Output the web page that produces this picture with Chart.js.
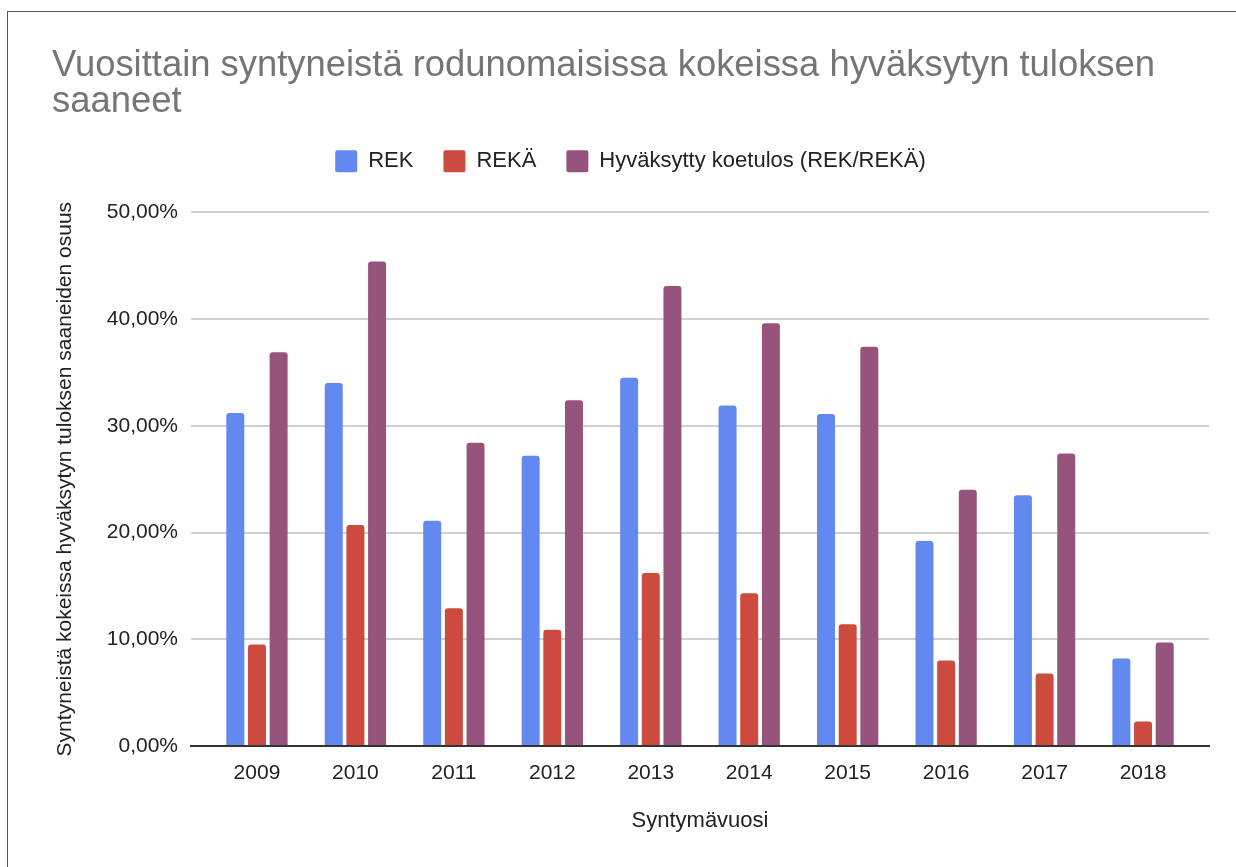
<!DOCTYPE html>
<html>
<head>
<meta charset="utf-8">
<script src="https://cdn.jsdelivr.net/npm/chart.js@4"></script>
<style>
  html, body { margin: 0; padding: 0; background: #fff; }
  #frame { position: absolute; left: 7px; top: 11px; width: 1400px; height: 1000px; border: 1.5px solid #555; }
  #wrap { position: absolute; left: 0; top: 0; width: 1236px; height: 867px; }
</style>
</head>
<body>
<div id="frame"></div>
<div id="wrap"><canvas id="chart"></canvas></div>
<script>
const years = [2009, 2010, 2011, 2012, 2013, 2014, 2015, 2016, 2017, 2018];
const rek = [31.2, 34.0, 21.1, 27.2, 34.5, 31.9, 31.1, 19.2, 23.5, 8.2];
const reka = [9.5, 20.7, 12.9, 10.9, 16.2, 14.3, 11.4, 8.0, 6.8, 2.3];
const hyvaksytty = [36.9, 45.4, 28.4, 32.4, 43.1, 39.6, 37.4, 24.0, 27.4, 9.7];
const seriesNames = ['REK', 'REKÄ', 'Hyväksytty koetulos (REK/REKÄ)'];
const titleLines = ['Vuosittain syntyneistä rodunomaisissa kokeissa hyväksytyn tuloksen', 'saaneet'];

Chart.defaults.font.family = '"Liberation Sans", Arial, sans-serif';

// push the plot down a little below the legend
const legendGap = {
    id: 'legendGap',
    beforeInit(chart) {
        const fit = chart.legend.fit;
        chart.legend.fit = function () {
            fit.bind(chart.legend)();
            this.height += 30;
        };
    }
};

const ctx = document.getElementById('chart').getContext('2d');
new Chart(ctx, {
    type: 'bar',
    data: {
        labels: years,
        datasets: [
            { label: seriesNames[0], data: rek, backgroundColor: '#6389f0' },
            { label: seriesNames[1], data: reka, backgroundColor: '#cc4a3e' },
            { label: seriesNames[2], data: hyvaksytty, backgroundColor: '#96547c' }
        ]
    },
    options: {
        responsive: true,
        maintainAspectRatio: false,
        animation: false,
        layout: { padding: { left: 52, right: 27, top: 0, bottom: 0 } },
        datasets: {
            bar: {
                categoryPercentage: 0.66,
                barPercentage: 0.83,
                borderRadius: 3,
                borderWidth: 0
            }
        },
        plugins: {
            title: {
                display: true,
                text: titleLines,
                align: 'start',
                color: '#757575',
                font: { size: 36.4, weight: 'normal', lineHeight: 1 },
                padding: { top: 47.5, bottom: 0 }
            },
            legend: {
                labels: {
                    color: '#222',
                    font: { size: 22 },
                    boxWidth: 22,
                    boxHeight: 22,
                    useBorderRadius: true,
                    borderRadius: 2,
                    padding: 30
                }
            },
            tooltip: { enabled: false }
        },
        scales: {
            x: {
                type: 'linear',
                min: 2008.33,
                max: 2018.67,
                offset: false,
                afterFit(scale) { scale.height = 121; },
                grid: { display: false },
                border: { display: true, color: '#333', width: 2 },
                ticks: {
                    stepSize: 1,
                    includeBounds: false,
                    color: '#222',
                    font: { size: 21 },
                    padding: 7,
                    callback: (v) => String(v)
                },
                title: {
                    display: true,
                    text: 'Syntymävuosi',
                    color: '#222',
                    font: { size: 22 },
                    padding: { top: 0, bottom: 33 }
                }
            },
            y: {
                min: 0,
                max: 50,
                afterFit(scale) { scale.width = 139; },
                grid: { color: '#d0d0d0', lineWidth: 2, drawTicks: false },
                border: { display: false },
                ticks: {
                    stepSize: 10,
                    color: '#222',
                    font: { size: 21 },
                    padding: 13,
                    callback: (v) => v.toFixed(2).replace('.', ',') + '%'
                },
                title: {
                    display: true,
                    text: 'Syntyneistä kokeissa hyväksytyn tuloksen saaneiden osuus',
                    color: '#222',
                    font: { size: 21 },
                    padding: { top: 1, bottom: 0 }
                }
            }
        }
    },
    plugins: [legendGap]
});
</script>
</body>
</html>
